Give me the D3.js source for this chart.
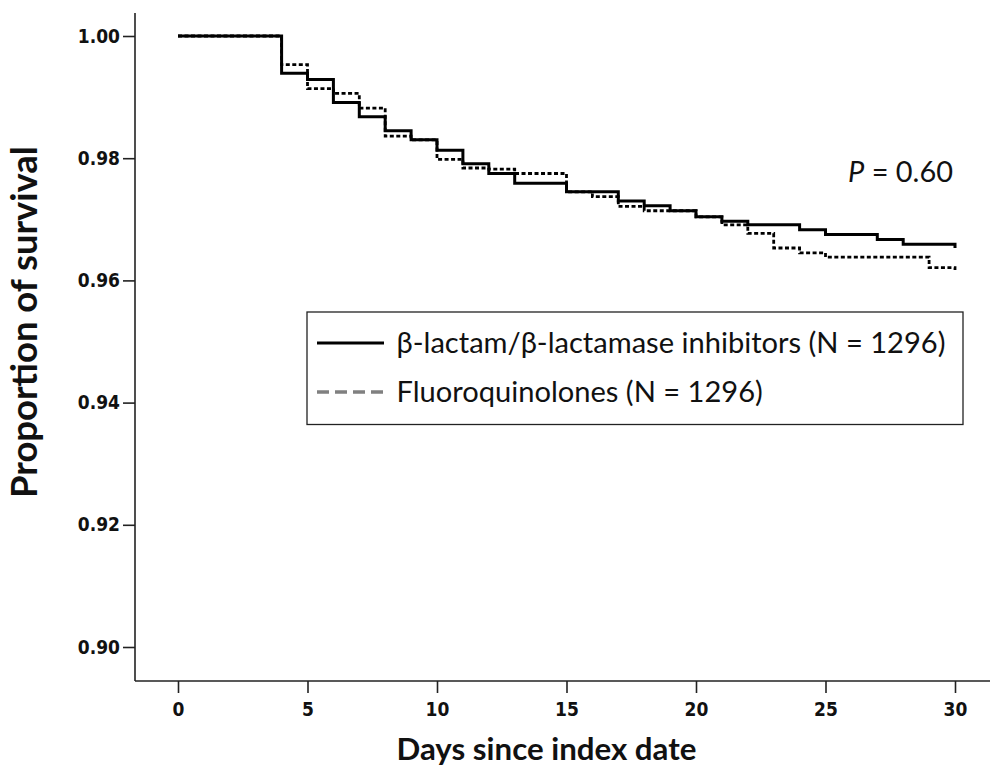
<!DOCTYPE html>
<html>
<head>
<meta charset="utf-8">
<script src="https://cdn.jsdelivr.net/npm/d3@7"></script>
<style>
  html, body { margin: 0; padding: 0; background: #fff; }
  svg { display: block; }
</style>
</head>
<body>
<svg id="chart" width="995" height="770"></svg>
<script>
// ---- data ----
const blDays = [0, 4, 5, 6, 7, 8, 9, 10, 11, 12, 13, 15, 17, 18, 19, 20, 21, 22, 24, 25, 27, 28, 30];
const blSurv = [1.0, 0.9939, 0.9929, 0.9891, 0.9868, 0.9845, 0.9830, 0.9813, 0.9791, 0.9775, 0.9759, 0.9745,
                0.9730, 0.9722, 0.9714, 0.9704, 0.9697, 0.9691, 0.9683, 0.9675, 0.9667, 0.9659, 0.9653];
const fqDays = [0, 4, 5, 6, 7, 8, 9, 10, 11, 12, 13, 15, 16, 17, 18, 20, 21, 22, 23, 24, 25, 29, 30];
const fqSurv = [1.0, 0.9953, 0.9914, 0.9906, 0.9882, 0.9836, 0.9830, 0.9798, 0.9784, 0.9782, 0.9775, 0.9745,
                0.9737, 0.9721, 0.9714, 0.9704, 0.9691, 0.9677, 0.9653, 0.9645, 0.9638, 0.9621, 0.9617];
const xTicks = [0, 5, 10, 15, 20, 25, 30];
const yTicks = [0.90, 0.92, 0.94, 0.96, 0.98, 1.00];
const seriesNames = ["β-lactam/β-lactamase inhibitors (N = 1296)", "Fluoroquinolones (N = 1296)"];
const pText = "0.60";
const xTitle = "Days since index date";
const yTitle = "Proportion of survival";

// ---- layout ----
const svg = d3.select("#chart");
const x = d3.scaleLinear().domain([0, 30]).range([178, 955]);
const y = d3.scaleLinear().domain([0.90, 1.00]).range([647, 36]);
const axisX0 = 135, axisX1 = 990, axisYTop = 13, axisYBot = 681;
const tickFont = "'DejaVu Sans Condensed', 'DejaVu Sans', sans-serif";
const titleFont = "'Lato', 'Open Sans', sans-serif";

function fitWidth(sel, target) {
  const node = sel.node();
  const fs = parseFloat(sel.attr("font-size"));
  const w = node.getComputedTextLength();
  if (w > 0) sel.attr("font-size", (fs * target / w).toFixed(2));
}

// axes lines
svg.append("line").attr("x1", axisX0).attr("x2", axisX0).attr("y1", axisYTop).attr("y2", axisYBot)
  .attr("stroke", "#222").attr("stroke-width", 1.6);
svg.append("line").attr("x1", axisX0).attr("x2", axisX1).attr("y1", axisYBot).attr("y2", axisYBot)
  .attr("stroke", "#222").attr("stroke-width", 1.6);

// y axis ticks
const gy = svg.append("g").attr("transform", `translate(${axisX0},0)`)
  .call(d3.axisLeft(y).tickValues(yTicks).tickFormat(d3.format(".2f")).tickSize(12).tickPadding(3));
gy.select(".domain").remove();
gy.selectAll(".tick line").attr("stroke", "#222").attr("stroke-width", 1.6);
gy.selectAll(".tick text").attr("font-family", tickFont).attr("font-weight", "bold")
  .attr("font-size", 19).attr("fill", "#111");

// x axis ticks
const gx = svg.append("g").attr("transform", `translate(0,${axisYBot})`)
  .call(d3.axisBottom(x).tickValues(xTicks).tickFormat(d3.format("d")).tickSize(12).tickPadding(10));
gx.select(".domain").remove();
gx.selectAll(".tick line").attr("stroke", "#222").attr("stroke-width", 1.6);
gx.selectAll(".tick text").attr("font-family", tickFont).attr("font-weight", "bold")
  .attr("font-size", 19).attr("fill", "#111");

// titles
const yt = svg.append("text").attr("transform", "translate(37,322) rotate(-90)")
  .attr("text-anchor", "middle").attr("font-family", titleFont).attr("font-weight", "bold")
  .attr("font-size", 28).attr("fill", "#111").text(yTitle);
fitWidth(yt, 352);
const xt = svg.append("text").attr("x", 546.5).attr("y", 760)
  .attr("text-anchor", "middle").attr("font-family", titleFont).attr("font-weight", "bold")
  .attr("font-size", 26).attr("fill", "#111").text(xTitle);
fitWidth(xt, 300);

// curves
const line = d3.line().curve(d3.curveStepAfter).x(d => x(d[0])).y(d => y(d[1]));
const blData = blDays.map((d, i) => [d, blSurv[i]]);
const fqData = fqDays.map((d, i) => [d, fqSurv[i]]);
svg.append("path").datum(blData).attr("d", line).attr("fill", "none")
  .attr("stroke", "#000").attr("stroke-width", 3);
svg.append("path").datum(fqData).attr("d", line).attr("fill", "none")
  .attr("stroke", "#000").attr("stroke-width", 2.8).attr("stroke-dasharray", "4,2.5");

// P value
const pt = svg.append("text").attr("x", 848).attr("y", 182)
  .attr("font-family", titleFont).attr("font-size", 26).attr("fill", "#111");
pt.append("tspan").attr("font-style", "italic").text("P");
pt.append("tspan").text(" = " + pText);
fitWidth(pt, 105);

// legend
const lg = svg.append("g");
lg.append("rect").attr("x", 307).attr("y", 312).attr("width", 656).attr("height", 112.5)
  .attr("fill", "#fff").attr("stroke", "#222").attr("stroke-width", 1.3);
lg.append("line").attr("x1", 317).attr("x2", 384).attr("y1", 343).attr("y2", 343)
  .attr("stroke", "#000").attr("stroke-width", 3.2);
lg.append("line").attr("x1", 317).attr("x2", 384).attr("y1", 392).attr("y2", 392)
  .attr("stroke", "#808080").attr("stroke-width", 3.5).attr("stroke-dasharray", "12,6");
const l1 = lg.append("text").attr("x", 396.5).attr("y", 353).attr("font-family", titleFont)
  .attr("font-size", 26).attr("fill", "#111").text(seriesNames[0]);
fitWidth(l1, 549);
const l2 = lg.append("text").attr("x", 396.5).attr("y", 402).attr("font-family", titleFont)
  .attr("font-size", 26).attr("fill", "#111").text(seriesNames[1]);
l2.attr("font-size", l1.attr("font-size"));
</script>
</body>
</html>
